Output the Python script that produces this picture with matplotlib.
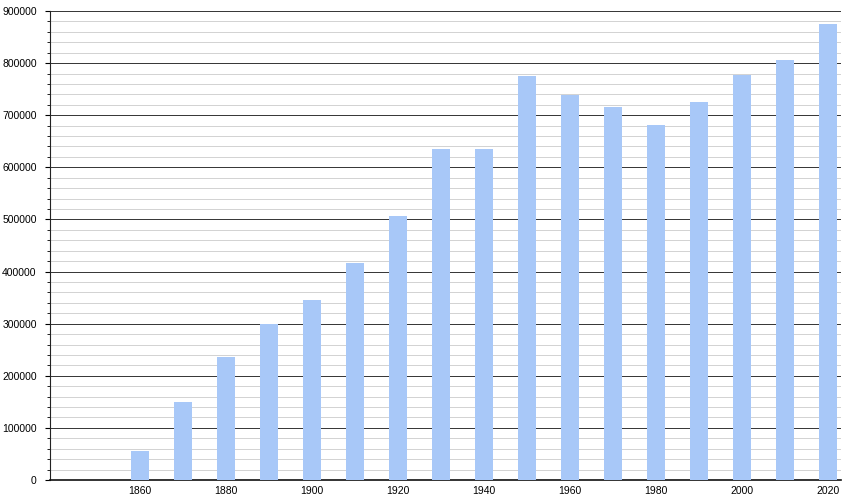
import matplotlib.pyplot as plt
from matplotlib.ticker import MultipleLocator

years = [1860, 1870, 1880, 1890, 1900, 1910, 1920, 1930, 1940,
         1950, 1960, 1970, 1980, 1990, 2000, 2010, 2020]
population = [56000, 150000, 236000, 299000, 345000, 416000, 506000, 635000, 635000,
              775000, 739000, 716000, 681000, 725000, 777000, 806000, 875000]
xticks = [1860, 1880, 1900, 1920, 1940, 1960, 1980, 2000, 2020]

plt.rcParams['font.family'] = ['Liberation Sans', 'DejaVu Sans']

fig = plt.figure(figsize=(8.5, 5), dpi=100)
ax = fig.add_axes([50 / 850, 20 / 500, 791 / 850, 469 / 500])

ax.bar(years, population, width=4.2, color='#a8c8f8', zorder=3)

ax.set_xlim(1839, 2023)
ax.set_ylim(0, 900000)
ax.set_xticks(xticks)
ax.yaxis.set_major_locator(MultipleLocator(100000))
ax.yaxis.set_minor_locator(MultipleLocator(20000))

ax.grid(True, axis='y', which='major', color='#333333', linewidth=0.7, zorder=1)
ax.grid(True, axis='y', which='minor', color='#d2d2d2', linewidth=0.7, zorder=1)

for side in ['top', 'right']:
    ax.spines[side].set_visible(False)
ax.spines['left'].set_color('#222222')
ax.spines['bottom'].set_color('#111111')
ax.spines['bottom'].set_linewidth(1.2)

ax.tick_params(axis='x', length=0, labelsize=7.5, pad=4)
ax.tick_params(axis='y', which='major', length=3.6, labelsize=7.5, pad=6)
ax.tick_params(axis='y', which='minor', length=2.2)

fig.savefig('out.png', dpi=100)
